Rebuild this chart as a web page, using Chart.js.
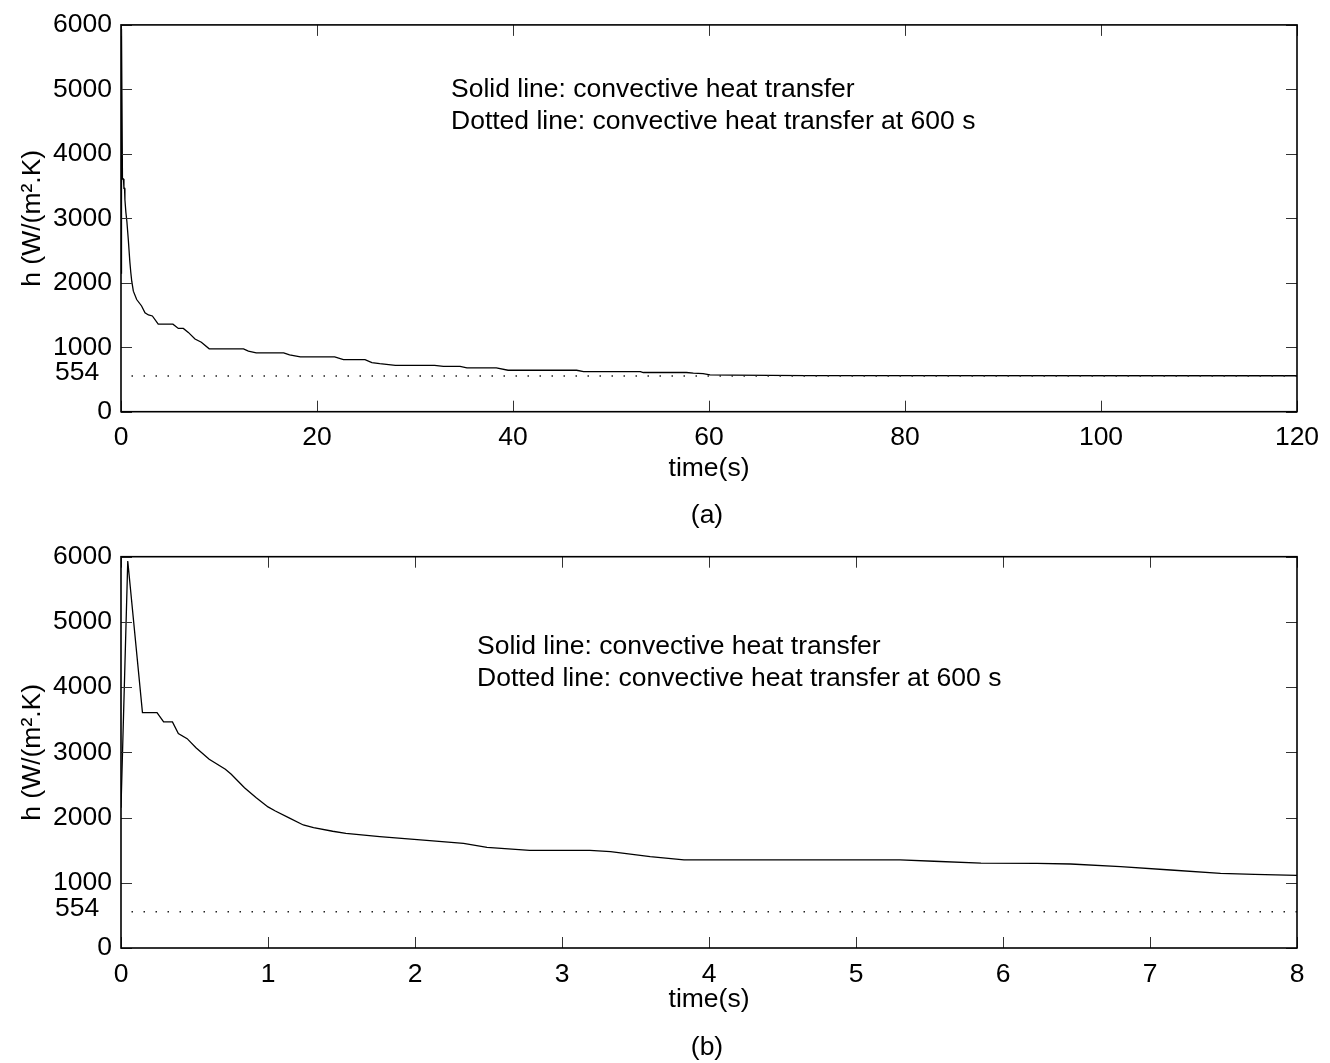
<!DOCTYPE html>
<html><head><meta charset="utf-8">
<script src="https://cdn.jsdelivr.net/npm/chart.js@4.4.1/dist/chart.umd.min.js"></script>
<style>
html,body{margin:0;padding:0;background:#fff;}
#wrap{position:relative;width:1330px;height:1063px;background:#fff;}
canvas{position:absolute;left:0;}
#c1{top:0;}
#c2{top:531px;}
</style></head><body>
<div id="wrap"><canvas id="c1" width="1330" height="531"></canvas><canvas id="c2" width="1330" height="532"></canvas></div>
<script>
// ---- data ----
const timeA = [0,0.05,0.15,0.25,0.3,0.36,0.4,0.5,0.6,0.75,0.9,1.0,1.1,1.26,1.6,2.1,2.45,2.8,3.2,3.8,5.3,5.85,6.36,6.87,7.55,8.2,9.0,12.5,13.0,13.8,16.6,17.2,18.3,21.8,22.7,24.9,25.6,26.4,28.0,32.0,32.9,34.6,35.3,38.3,39.5,46.5,47.2,53.0,53.3,57.7,58.4,59.4,60.1,62.5,70,120];
const hA    = [2150,5935,3610,3610,3466,3466,3287,3090,2950,2660,2330,2160,2020,1870,1740,1640,1535,1500,1485,1358,1358,1291,1291,1230,1128,1077,975,975,940,914,914,883,850,850,807,807,761,745,720,720,704,704,679,679,643,643,623,623,608,608,597,592,571,566,560,558];
const timeB = [0,0.046,0.146,0.245,0.29,0.35,0.39,0.45,0.51,0.60,0.71,0.75,0.84,0.92,1.0,1.05,1.14,1.24,1.31,1.44,1.53,1.76,2.10,2.33,2.49,2.78,3.19,3.33,3.6,3.83,5.30,5.53,5.85,6.23,6.46,6.80,7.14,7.48,7.71,8.0];
const hB    = [2150,5935,3610,3610,3466,3466,3287,3210,3072,2894,2740,2663,2458,2305,2163,2101,1998,1886,1845,1790,1759,1707,1646,1605,1544,1498,1498,1477,1400,1350,1350,1330,1300,1299,1288,1247,1196,1145,1130,1115];
const h600 = 554;
const xTicksA = [0,20,40,60,80,100,120];
const xTicksB = [0,1,2,3,4,5,6,7,8];
const yTicks  = [0,1000,2000,3000,4000,5000,6000];
const refLabel = '554';
const noteLines = ['Solid line: convective heat transfer','Dotted line: convective heat transfer at 600 s'];
const xTitle = 'time(s)';
const yTitle = 'h (W/(m\u00B2.K)';
const captions = ['(a)','(b)'];

const FONT = "'Liberation Sans', Arial, Helvetica, sans-serif";
const FS = 26.5;

function framePlugin(cfg){
  return {
    id:'frame',
    afterDraw(chart){
      const {ctx, chartArea:a, scales:{x,y}} = chart;
      ctx.save();
      ctx.strokeStyle='#333'; ctx.lineWidth=1;
      const L=11;
      ctx.beginPath();
      x.ticks.forEach(t=>{
        const px=Math.round(x.getPixelForValue(t.value))+0.5;
        ctx.moveTo(px,a.bottom); ctx.lineTo(px,a.bottom-L);
        ctx.moveTo(px,a.top); ctx.lineTo(px,a.top+L);
      });
      y.ticks.forEach(t=>{
        const py=Math.round(y.getPixelForValue(t.value))+0.5;
        ctx.moveTo(a.left,py); ctx.lineTo(a.left+L,py);
        ctx.moveTo(a.right,py); ctx.lineTo(a.right-L,py);
      });
      ctx.stroke();
      ctx.strokeStyle='#000'; ctx.lineWidth=1.6;
      ctx.strokeRect(a.left,a.top,a.right-a.left,a.bottom-a.top);
      ctx.fillStyle='#000';
      ctx.font=FS+'px '+FONT;
      ctx.textBaseline='middle';
      ctx.textAlign='left';
      ctx.fillText(refLabel, 55, y.getPixelForValue(h600)-3);
      noteLines.forEach((s,i)=>ctx.fillText(s, a.left+cfg.noteDx, a.top+cfg.noteDy+i*31.5));
      ctx.textAlign='center';
      ctx.fillText(cfg.caption, 707, cfg.capY);
      ctx.restore();
    }
  };
}

function makeChart(id, times, hs, xTicks, xmax, cfg){
  const pts = times.map((t,i)=>({x:t,y:hs[i]}));
  const ref = [{x:0,y:h600},{x:xmax,y:h600}];
  return new Chart(document.getElementById(id), {
    type:'line',
    data:{datasets:[
      {data:ref, borderColor:'#222', borderWidth:1.5, borderDash:[1.5,10.5], borderDashOffset:1.5, pointRadius:0, tension:0, fill:false},
      {data:pts, borderColor:'#000', borderWidth:1.3, pointRadius:0, tension:0, fill:false}
    ]},
    options:{
      responsive:false, animation:false, devicePixelRatio:1,
      layout:{padding:{left:0,right:33,top:cfg.padTop,bottom:0}},
      plugins:{legend:{display:false}, tooltip:{enabled:false}, title:{display:false}},
      scales:{
        x:{type:'linear', min:0, max:xmax,
          grid:{display:false, drawTicks:false}, border:{display:false},
          afterBuildTicks:s=>{s.ticks=xTicks.map(v=>({value:v}));},
          afterFit:s=>{s.height=cfg.xHeight;},
          ticks:{color:'#000', font:{family:FONT,size:FS}, padding:10.5, autoSkip:false, maxRotation:0, callback:v=>String(v)},
          title:{display:true, text:xTitle, color:'#000', font:{family:FONT,size:FS}, padding:{top:0,bottom:cfg.xTitlePad}}
        },
        y:{type:'linear', min:0, max:6000,
          grid:{display:false, drawTicks:false}, border:{display:false},
          afterBuildTicks:s=>{s.ticks=yTicks.map(v=>({value:v}));},
          afterFit:s=>{s.width=121;},
          ticks:{color:'#000', font:{family:FONT,size:FS}, padding:9, autoSkip:false, callback:v=>String(v)},
          title:{display:true, text:yTitle, color:'#000', font:{family:FONT,size:FS}, padding:{top:33-FS*0.6,bottom:0}}
        }
      }
    },
    plugins:[framePlugin(cfg)]
  });
}

makeChart('c1', timeA, hA, xTicksA, 120, {padTop:21, xHeight:119.3, xTitlePad:62-FS*0.6, noteDx:330, noteDy:65, caption:captions[0], capY:516});
makeChart('c2', timeB, hB, xTicksB, 8, {padTop:25.7, xHeight:115, xTitlePad:63-FS*0.6, noteDx:356, noteDy:90, caption:captions[1], capY:517});
</script>
</body></html>
